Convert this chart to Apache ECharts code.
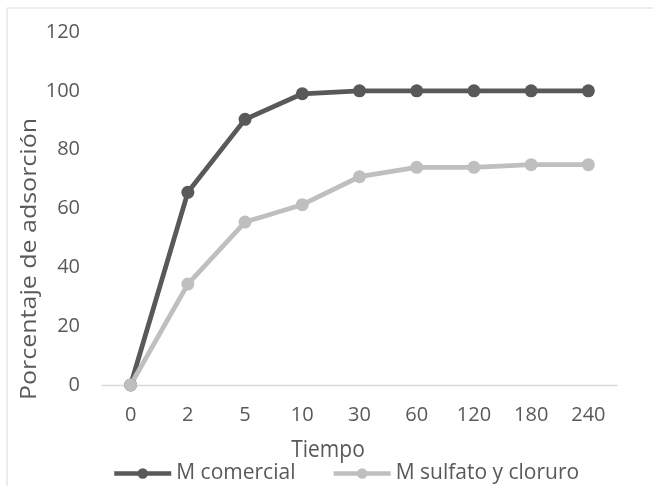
<!DOCTYPE html>
<html>
<head>
<meta charset="utf-8">
<script src="https://cdn.jsdelivr.net/npm/echarts@6/dist/echarts.min.js"></script>
<style>html,body{margin:0;padding:0;background:#fff;}#c{width:653px;height:486px;}</style>
</head>
<body>
<div id="c"></div>
<script>
var categories = ['0', '2', '5', '10', '30', '60', '120', '180', '240'];
var comercial = [0, 65.5, 90.3, 99, 100, 100, 100, 100, 100];
var sulfatoCloruro = [0, 34.3, 55.4, 61.3, 70.8, 74, 74, 74.9, 74.9];
var seriesNames = ['M comercial', 'M sulfato y cloruro'];
var xTitle = 'Tiempo';
var yTitle = 'Porcentaje de adsorción';

var FONT = '"Open Sans", "Noto Sans", sans-serif';
var TXT = '#595959';
var chart = echarts.init(document.getElementById('c'), null, {renderer: 'canvas'});
chart.setOption({
  animation: false,
  backgroundColor: '#fff',
  textStyle: {fontFamily: FONT, color: TXT},
  grid: {left: 102, right: 36, top: 32, bottom: 101, containLabel: false},
  graphic: [
    {type: 'rect', shape: {x: 7, y: 8, width: 700, height: 500},
     style: {fill: 'none', stroke: '#d9d9d9', lineWidth: 1}, silent: true, z: -1},
    {type: 'text', x: 328, y: 450, scaleY: 1.1,
     style: {text: xTitle, font: '21px ' + FONT, fill: TXT, align: 'center', verticalAlign: 'middle'}},
    {type: 'text', x: 30, y: 259, rotation: Math.PI / 2, scaleX: 1.19,
     style: {text: yTitle, font: '21px ' + FONT, fill: TXT, align: 'center', verticalAlign: 'middle'}}
  ],
  legend: {
    left: 112, top: 463, padding: 0, itemGap: 36,
    itemWidth: 57, itemHeight: 13,
    lineStyle: {width: 4.5},
    textStyle: {fontSize: 21, color: TXT, fontFamily: FONT},
    data: seriesNames
  },
  xAxis: {
    type: 'category', data: categories, boundaryGap: true,
    axisLine: {lineStyle: {color: '#d9d9d9', width: 1.3}},
    axisTick: {show: false},
    axisLabel: {fontSize: 20, color: TXT, margin: 20, fontFamily: FONT}
  },
  yAxis: {
    type: 'value', min: 0, max: 120, interval: 20,
    axisLine: {show: false}, axisTick: {show: false},
    splitLine: {show: false},
    axisLabel: {fontSize: 20, color: TXT, margin: 22, fontFamily: FONT}
  },
  series: [
    {name: seriesNames[0], type: 'line', data: comercial,
     symbol: 'circle', symbolSize: 13,
     lineStyle: {color: '#595959', width: 4.8},
     itemStyle: {color: '#595959'}},
    {name: seriesNames[1], type: 'line', data: sulfatoCloruro,
     symbol: 'circle', symbolSize: 13,
     lineStyle: {color: '#bfbfbf', width: 4.8},
     itemStyle: {color: '#bfbfbf'}}
  ]
});
</script>
</body>
</html>
